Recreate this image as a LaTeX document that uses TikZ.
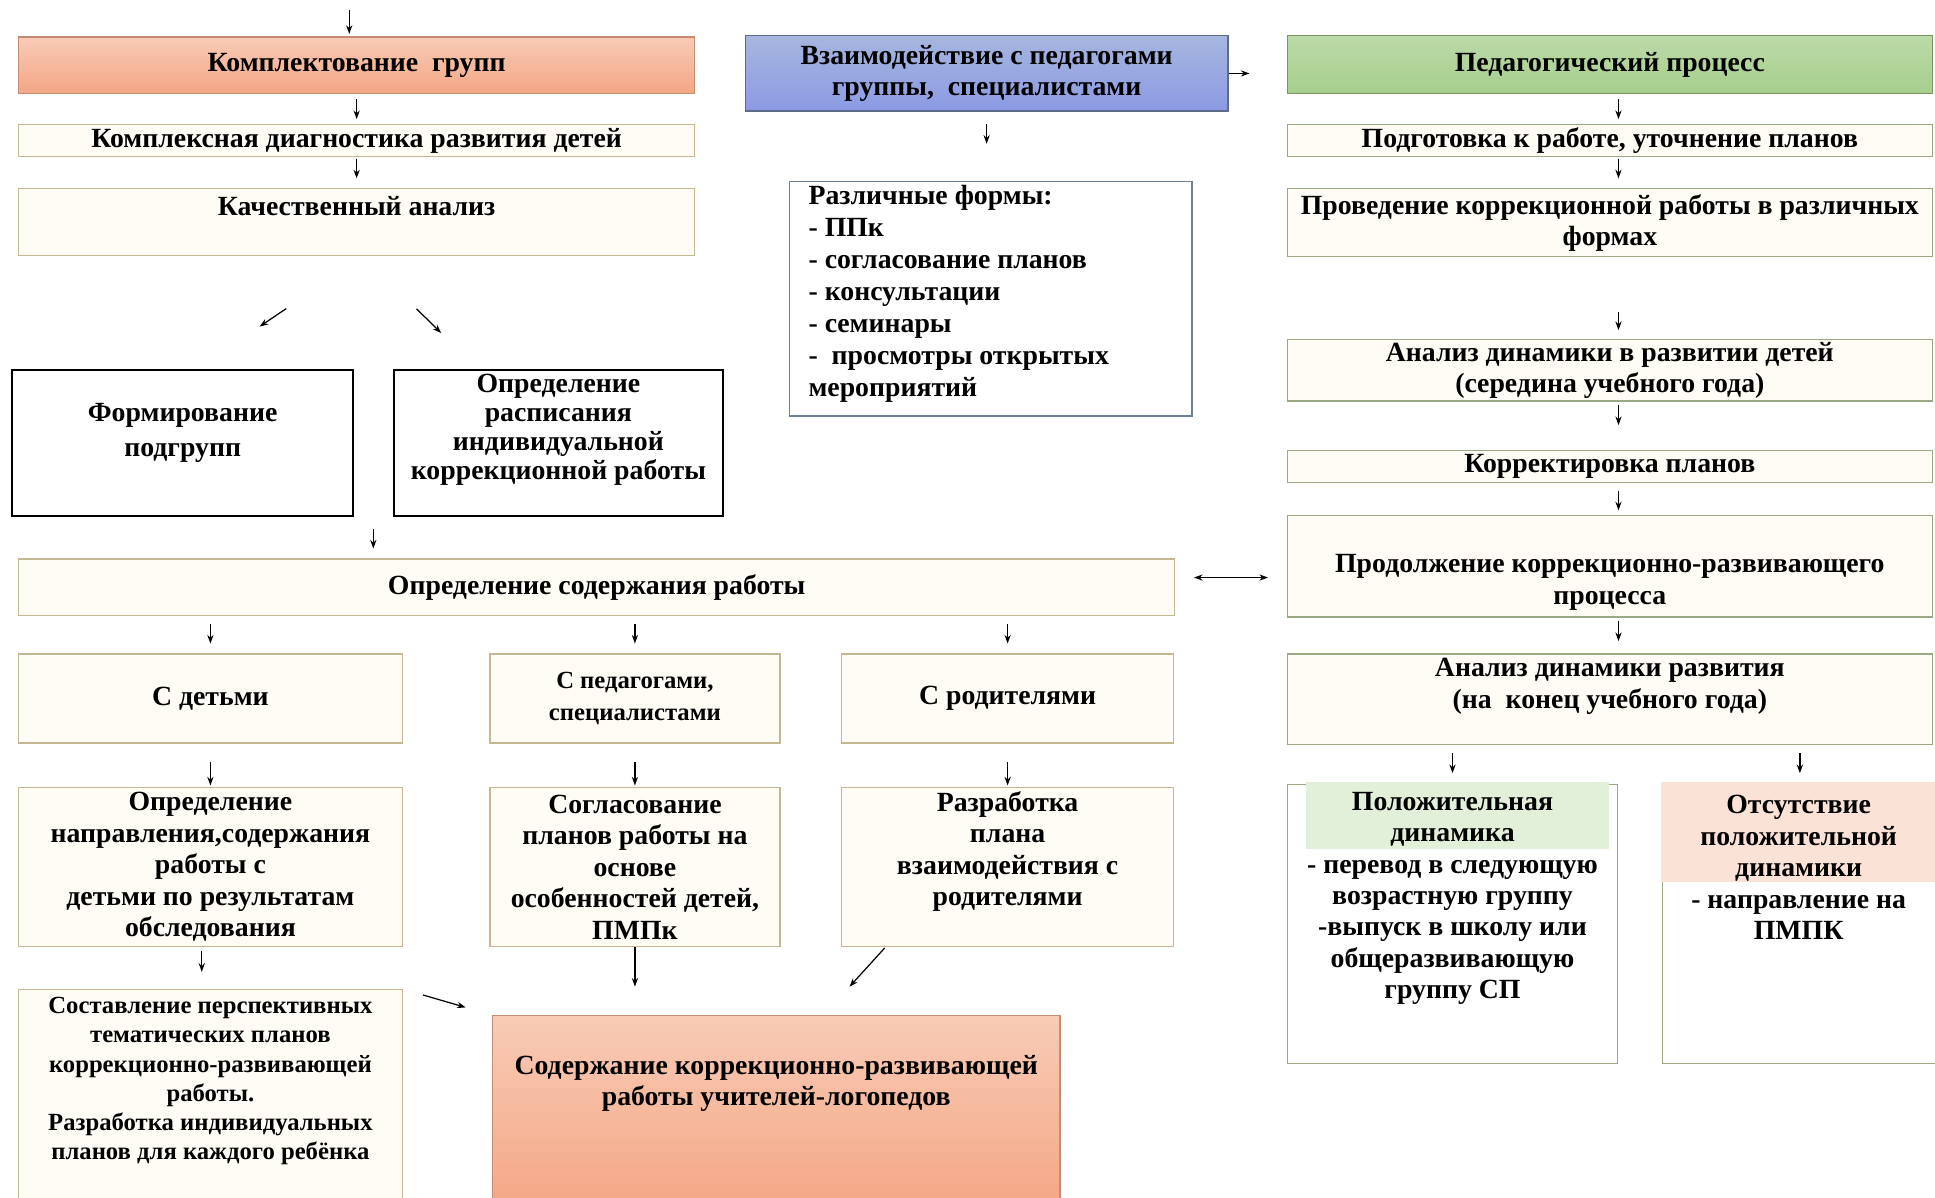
\documentclass[tikz,border=0pt]{standalone}
\usepackage{fontspec}
\setmainfont{Liberation Serif}
\usetikzlibrary{arrows.meta,calc}

\definecolor{salmonA}{RGB}{248,203,182}
\definecolor{salmonB}{RGB}{244,166,132}
\definecolor{salmonline}{RGB}{196,140,112}
\definecolor{blueA}{RGB}{166,182,222}
\definecolor{blueB}{RGB}{140,154,228}
\definecolor{blueline}{RGB}{92,108,138}
\definecolor{greenA}{RGB}{188,218,168}
\definecolor{greenB}{RGB}{166,206,140}
\definecolor{greenline}{RGB}{122,148,100}
\definecolor{tanline}{RGB}{198,182,146}
\definecolor{sageline}{RGB}{156,170,132}
\definecolor{formsline}{RGB}{110,128,148}
\definecolor{cream}{RGB}{255,252,245}
\definecolor{palegreen}{RGB}{226,239,217}
\definecolor{palepink}{RGB}{251,226,214}

\tikzset{
  box/.style={draw=tanline, line width=1pt, fill=cream, rectangle, inner sep=2pt, align=center,
    font=\fontsize{22.5}{25.5}\selectfont\bfseries},
  rbox/.style={box, draw=sageline},
  kbox/.style={box, draw=black, fill=white, line width=1.4pt},
  txt/.style={inner sep=0pt, align=center, font=\fontsize{22.5}{25.5}\selectfont\bfseries},
  arr/.style={-{Stealth[length=7pt,width=5pt]}, line width=1pt},
}

\begin{document}
\begin{tikzpicture}[x=1pt, y=-1pt]
            \useasboundingbox (0,0) rectangle (1568,970);

            \node[box, draw=salmonline, top color=salmonA, bottom color=salmonB, minimum width=548pt, minimum height=46pt] (kompl) at (289,53) {Комплектование\ \ групп};
            \node[box, minimum width=548pt, minimum height=26pt] (diag) at (289,114) {Комплексная диагностика развития детей};
            \node[box, minimum width=548pt, minimum height=54pt] (kach) at (289,180) {};
            \node[txt] (kachT) at (289,167) {Качественный анализ};

            \node[kbox, minimum width=276pt, minimum height=118pt] (form) at (148,359) {};
            \node[txt, font=\fontsize{22.5}{28}\selectfont\bfseries] (formT) at (148,351) {Формирование\\подгрупп};
            \node[kbox, minimum width=267pt, minimum height=118pt] (rasp) at (452.5,359) {};
            \node[txt, font=\fontsize{22.5}{23.5}\selectfont\bfseries] (raspT) at (452.5,348) {Определение\\расписания\\индивидуальной\\коррекционной работы};

            \node[box, minimum width=937pt, minimum height=46pt] (sod) at (483.5,476) {Определение содержания работы};

            \node[box, minimum width=311pt, minimum height=72pt] (deti) at (170.5,566) {С детьми};
            \node[box, minimum width=235pt, minimum height=72pt, font=\fontsize{20}{26}\selectfont\bfseries] (spec) at (514.5,566) {С педагогами,\\специалистами};
            \node[box, minimum width=269pt, minimum height=72pt] (rod) at (816.5,566) {С родителями};

            \node[box, minimum width=311pt, minimum height=129pt] (opr) at (170.5,702.5) {Определение\\направления,содержания\\работы с\\детьми по результатам\\обследования};
            \node[box, minimum width=235pt, minimum height=129pt] (sogl) at (514.5,702.5) {Согласование\\планов работы на\\основе\\особенностей детей,\\ПМПк};
            \node[box, minimum width=269pt, minimum height=129pt] (razr) at (816.5,702.5) {};
            \node[txt] (razrT) at (816.5,690) {Разработка\\плана\\взаимодействия с\\родителями};

            \node[box, minimum width=311pt, minimum height=180pt] (sost) at (170.5,892) {};
            \node[txt, font=\fontsize{20}{23.6}\selectfont\bfseries] (sostT) at (170.5,876) {Составление перспективных\\тематических планов\\коррекционно-развивающей\\работы.\\Разработка индивидуальных\\планов для каждого ребёнка};
            \node[box, draw=salmonline, top color=salmonA, bottom color=salmonB, minimum width=460pt, minimum height=160pt] (soder) at (629,903) {};
            \node[txt] (soderT) at (629,878) {Содержание коррекционно-развивающей\\работы учителей-логопедов};

            \node[box, draw=blueline, top color=blueA, bottom color=blueB, minimum width=391pt, minimum height=61pt] (vz) at (799.5,59.5) {Взаимодействие с педагогами\\группы,\ \ специалистами};
            \node[box, draw=formsline, fill=white, minimum width=326pt, minimum height=190pt] (forms) at (803,242) {};
            \node[txt, align=left, anchor=west, font=\fontsize{22.5}{26}\selectfont\bfseries] (formsT) at (655,238) {Различные формы:\\- ППк\\- согласование планов\\- консультации\\- семинары\\- \ просмотры открытых\\мероприятий};

            \node[rbox, draw=greenline, top color=greenA, bottom color=greenB, minimum width=523pt, minimum height=47pt] (ped) at (1304.5,52.5) {Педагогический процесс};
            \node[rbox, minimum width=523pt, minimum height=26pt] (podg) at (1304.5,114) {Подготовка к работе, уточнение планов};
            \node[rbox, minimum width=523pt, minimum height=55pt] (prov) at (1304.5,180.5) {Проведение коррекционной работы в различных\\формах};
            \node[rbox, minimum width=523pt, minimum height=50pt] (sered) at (1304.5,300) {Анализ динамики в развитии детей\\(середина учебного года)};
            \node[rbox, minimum width=523pt, minimum height=26pt] (korr) at (1304.5,378) {Корректировка планов};
            \node[rbox, minimum width=523pt, minimum height=82pt] (prod) at (1304.5,459) {};
            \node[txt] (prodT) at (1304.5,472) {Продолжение коррекционно-развивающего\\процесса};
            \node[rbox, minimum width=523pt, minimum height=73pt] (konec) at (1304.5,566.5) {};
            \node[txt] (konecT) at (1304.5,556) {Анализ динамики развития\\(на\ \ конец учебного года)};

            \node[rbox, fill=white, minimum width=268pt, minimum height=226pt] (pol) at (1177,749) {};
            \fill[palegreen] (1058,634) rectangle (1304,688);
            \node[txt] (polT) at (1177,728) {Положительная\\динамика\\- перевод в следующую\\возрастную группу\\-выпуск в школу или\\общеразвивающую\\группу СП};
            \node[rbox, fill=white, minimum width=223pt, minimum height=226pt] (ots) at (1458.5,749) {};
            \fill[palepink] (1346,634) rectangle (1570,715);
            \node[txt] (otsT) at (1457.5,703) {Отсутствие\\положительной\\динамики\\- направление на\\ПМПК};

            \coordinate (top) at (283,8);
            \coordinate (mid) at ($(form.south east)!0.5!(rasp.south west)$);

            \draw[arr, shorten >=2pt] (top) -- (top |- kompl.north);
            \draw[arr, shorten <=4pt, shorten >=4pt] (kompl.south) -- (diag.north);
            \draw[arr, shorten <=1pt, shorten >=8pt] (diag.south) -- (kach.north);
            \draw[arr, shorten <=76pt, shorten >=62pt] ([xshift=6pt]kach.south) -- ([xshift=11pt]form.north);
            \draw[arr, shorten <=61pt, shorten >=42pt] ([xshift=5pt]kach.south) -- ([xshift=-65pt]rasp.north);
            \draw[arr, shorten <=10pt, shorten >=8pt] (mid) -- (mid |- sod.north);

            \foreach \n in {deti,spec,rod} {
                \draw[arr, shorten <=6pt, shorten >=8pt] (sod.south -| \n.north) -- (\n.north);
            }
            \foreach \a/\b in {deti/opr,spec/sogl,rod/razr} {
                \draw[arr, shorten <=15pt, shorten >=1pt] (\a.south) -- (\b.north);
            }
            \draw[arr, shorten <=3pt, shorten >=14pt] ([xshift=-7pt]opr.south) -- ([xshift=-7pt]sost.north);
            \draw[arr, shorten >=23pt] (sogl.south) -- (sogl.south |- soder.north);
            \draw[arr, shorten <=1pt, shorten >=31pt] ([xshift=36pt]razr.south west) -- ([xshift=-192pt]soder.north east);
            \draw[arr, shorten <=17pt, shorten >=22pt] (sost.north east) -- (soder.north west);

            \draw[arr, shorten >=30pt] (vz.east) -- (vz.east -| ped.west);
            \draw[arr, shorten <=10pt, shorten >=30pt] (vz.south) -- (vz.south |- forms.north);
            \draw[arr, {Stealth[length=7pt,width=5pt]}-{Stealth[length=7pt,width=5pt]}, shorten <=15pt, shorten >=15pt] ([yshift=8pt]sod.east) -- ([yshift=8pt]sod.east -| prod.west);

            \foreach \a/\b/\s/\e in {ped/podg/4/4, podg/prov/1/8, prov/sered/44/7, sered/korr/3/20, korr/prod/6/4, prod/konec/3/10} {
                \draw[arr, shorten <=\s pt, shorten >=\e pt] ([xshift=7pt]\a.south) -- ([xshift=7pt]\b.north);
            }
            \draw[arr, shorten <=7pt, shorten >=9pt] (konec.south -| pol.north) -- (pol.north);
            \draw[arr, shorten <=7pt, shorten >=9pt] (konec.south -| ots.north) -- (ots.north);
        \end{tikzpicture}
\end{document}
